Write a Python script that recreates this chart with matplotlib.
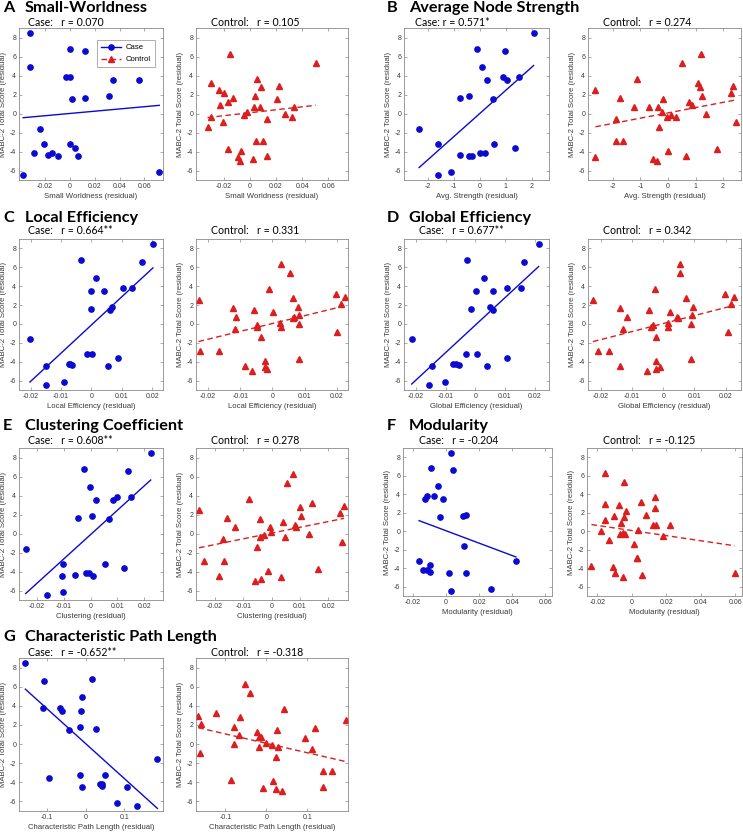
import numpy as np
import matplotlib.pyplot as plt
from matplotlib.lines import Line2D

plt.rcParams["axes.unicode_minus"] = False

## Data ---------------------------------------

case_y = [8.5, 6.8, 6.6, 4.9, 3.8, 3.8, 3.5, 3.5, 1.8, 1.6, 1.5, -1.6, -3.2, -3.2,
          -3.6, -4.2, -4.2, -4.4, -4.5, -4.5, -6.2, -6.5]
control_y = [6.3, 5.35, 3.65, 3.2, 2.9, 2.8, 2.5, 2.15, 1.8, 1.65, 1.5, 1.25, 0.9, 0.7,
             0.7, 0.65, 0.15, 0.0, -0.15, -0.35, -0.35, -0.55, -0.9, -1.4, -2.85, -2.85,
             -3.75, -3.9, -4.5, -4.55, -4.75, -4.95]

sw_case = [-0.032, 0.0, 0.0118, -0.032, -0.0032, 0.0003, 0.0346, 0.0556, 0.0317, 0.0123,
           0.0016, -0.0242, -0.021, 0.0, 0.0038, -0.029, -0.0145, -0.018, -0.0099, 0.0067,
           0.072, -0.0376]
sw_ctrl = [-0.0153, 0.0504, 0.0054, -0.0296, 0.0222, 0.0087, -0.0238, -0.0199, 0.0043,
           -0.0128, 0.0207, -0.0166, -0.0227, 0.0079, 0.0335, 0.0036, -0.002, 0.0266,
           -0.0046, -0.0296, 0.0319, 0.0133, -0.0202, -0.0322, 0.0051, 0.01, -0.0166,
           -0.0064, 0.013, -0.0092, 0.0026, -0.0074]

str_case = [2.06, -0.10, 0.95, 0.09, 0.90, 1.49, 0.27, 1.04, -0.41, -0.76, 0.52, -2.32,
            -1.58, 0.54, 1.34, 0.01, 0.19, -0.75, -0.42, -0.30, -1.10, -1.58]
str_ctrl = [1.19, 0.52, -1.12, 1.09, 2.35, 1.15, -2.63, 2.29, 1.25, -1.73, -0.19, 0.78,
            0.86, -1.23, -0.67, -0.36, -0.23, 1.38, 0.10, -0.04, 0.28, -1.89, 2.46, -0.31,
            -1.90, -1.63, 1.77, 0.02, 0.66, -2.63, -0.55, -0.40]

le_case = [0.0202, -0.0035, 0.0167, 0.0015, 0.0103, 0.0132, -0.0002, 0.0042, 0.0069,
           -0.0001, 0.006, -0.0202, -0.0014, 0.0002, 0.0088, -0.0074, -0.0069, -0.0065,
           -0.015, 0.0054, -0.0089, -0.0148]
le_ctrl = [0.0028, 0.0054, -0.0012, 0.0199, 0.0225, 0.0064, -0.023, 0.0213, 0.0079,
           -0.0123, -0.0058, 0.0003, 0.0081, -0.0112, 0.0067, 0.0063, 0.0022, 0.0084,
           -0.0047, -0.0048, 0.0028, -0.0116, 0.02, -0.0036, -0.0227, -0.0166, 0.0083,
           -0.0022, -0.0087, -0.0022, -0.0018, -0.0064]

ge_case = [0.0214, -0.0027, 0.0166, 0.003, 0.0106, 0.0155, 0.0001, 0.006, 0.005, -0.0015,
           0.0061, -0.0215, -0.0033, 0.0007, 0.0108, -0.0074, -0.0065, -0.0055, -0.0148,
           0.0038, -0.0104, -0.0157]
ge_ctrl = [0.0053, 0.0053, -0.0028, 0.0197, 0.0228, 0.0072, -0.0225, 0.0217, 0.0094,
           -0.0138, -0.0045, 0.0021, 0.0092, -0.0117, 0.0043, 0.0048, 0.0014, 0.0088,
           -0.0032, -0.0039, 0.0014, -0.0129, 0.0207, -0.0024, -0.0208, -0.0174, 0.009,
           -0.0022, -0.0139, -0.0009, -0.0023, -0.0051]

cl_case = [0.0224, -0.0026, 0.014, -0.0002, 0.0099, 0.015, 0.0021, 0.0084, 0.0005, -0.0046,
           0.0067, -0.0243, -0.0105, 0.0052, 0.0125, -0.0017, -0.0006, -0.0059, -0.0109,
           0.001, -0.0104, -0.0165]
cl_ctrl = [0.0074, 0.0055, -0.0082, 0.0144, 0.0256, 0.0101, -0.0257, 0.0242, 0.0104,
           -0.0157, -0.0043, 0.0039, 0.0083, -0.0129, -0.0005, 0.0085, -0.0002, 0.0132,
           -0.0026, -0.0042, 0.0046, -0.0173, 0.025, -0.0051, -0.0239, -0.0168, 0.0163,
           -0.0013, -0.0186, 0.0033, -0.0038, -0.006]

mod_case = [0.0032, -0.0088, 0.004, -0.005, -0.0074, -0.0117, -0.0127, -0.002, 0.0121,
            0.0103, -0.0038, 0.0111, -0.0163, 0.0422, -0.0096, -0.0139, -0.0117, -0.0094,
            0.002, 0.0121, 0.0273, 0.0028]
mod_ctrl = [-0.0157, -0.0045, 0.0136, 0.0054, -0.0155, -0.0077, 0.0132, -0.0035, 0.0081,
            -0.0101, -0.0043, -0.0155, -0.006, 0.0124, 0.0139, 0.0223, 0.0037, -0.0176,
            -0.005, -0.007, -0.0037, 0.018, -0.0134, 0.001, 0.0033, 0.0033, -0.0234,
            -0.011, 0.0598, -0.0097, 0.0062, -0.005]

cpl_case = [-0.1556, 0.0171, -0.1085, -0.0103, -0.1111, -0.0667, -0.0598, -0.012, -0.0145,
            0.0274, -0.0436, 0.1855, -0.0137, 0.0496, -0.094, 0.0376, 0.0427, 0.0436,
            -0.0085, 0.1077, 0.0803, 0.1333]
cpl_ctrl = [-0.052, -0.0395, 0.0437, -0.1235, -0.1664, -0.0647, 0.1958, -0.1597, -0.079,
            0.1193, 0.0269, -0.0227, -0.0672, -0.0176, -0.0134, 0.0958, -0.0017, -0.079,
            0.0151, -0.0168, 0.0277, 0.1118, -0.163, 0.0244, 0.1378, 0.1597, -0.0857,
            0.016, 0.1395, -0.0084, 0.0235, 0.0395]

letters = ["A", "B", "C", "D", "E", "F", "G"]
names = ["Small-Worldness", "Average Node Strength", "Local Efficiency", "Global Efficiency",
         "Clustering Coefficient", "Modularity", "Characteristic Path Length"]
xlabels = ["Small Worldness (residual)", "Avg. Strength (residual)",
           "Local Efficiency (residual)", "Global Efficiency (residual)",
           "Clustering (residual)", "Modularity (residual)",
           "Characteristic Path Length (residual)"]
case_r = ["Case:   r = 0.070", "Case: r = 0.571*", "Case:   r = 0.664**",
          "Case:   r = 0.677**", "Case:   r = 0.608**", "Case:   r = -0.204",
          "Case:   r = -0.652**"]
ctrl_r = ["Control:   r = 0.105", "Control:   r = 0.274", "Control:   r = 0.331",
          "Control:   r = 0.342", "Control:   r = 0.278", "Control:   r = -0.125",
          "Control:   r = -0.318"]
case_x = [sw_case, str_case, le_case, ge_case, cl_case, mod_case, cpl_case]
ctrl_x = [sw_ctrl, str_ctrl, le_ctrl, ge_ctrl, cl_ctrl, mod_ctrl, cpl_ctrl]

xticks = [[-0.02, 0, 0.02, 0.04, 0.06], [-2, -1, 0, 1, 2], [-0.02, -0.01, 0, 0.01, 0.02],
          [-0.02, -0.01, 0, 0.01, 0.02], [-0.02, -0.01, 0, 0.01, 0.02],
          [-0.02, 0, 0.02, 0.04, 0.06], [-0.1, 0, 0.1]]
xticklabels = [["-0.02", "0", "0.02", "0.04", "0.06"], ["-2", "-1", "0", "1", "2"],
               ["-0.02", "-0.01", "0", "0.01", "0.02"], ["-0.02", "-0.01", "0", "0.01", "0.02"],
               ["-0.02", "-0.01", "0", "0.01", "0.02"], ["-0.02", "0", "0.02", "0.04", "0.06"],
               ["-0.1", "0", "0.1"]]
xlims = [(-0.041, 0.075), (-2.9, 2.65), (-0.0238, 0.0235), (-0.0241, 0.0249),
         (-0.0268, 0.027), (-0.026, 0.064), (-0.172, 0.2)]

yticks = [-6, -4, -2, 0, 2, 4, 6, 8]

## Layout (pixels) -----------------------------

W, H = 743, 832
# left/right column pairs: (left axes x0, x1), (right axes x0, x1)
col_x = {0: ((19, 163), (196, 348)), 1: ((404, 549), (588, 741))}
# rows: (axes top, axes bottom)
row_y = [(28, 180), (239, 390), (448, 600), (658, 811)]
title_y = [8, 218, 426, 637]
sub_y = [22, 231, 440, 652]

BLUE = "#0a0ad2"
RED = "#dc1e1e"
FRAME = "#8a8a8a"
TXT = "#3a3a3a"

fig = plt.figure(figsize=(W / 100, H / 100), dpi=100)


def px_axes(x0, x1, y0, y1):
    return fig.add_axes([x0 / W, 1 - y1 / H, (x1 - x0) / W, (y1 - y0) / H])


def style_axes(ax, i):
    ax.set_xlim(*xlims[i])
    ax.set_ylim(-7, 9)
    ax.set_xticks(xticks[i])
    ax.set_xticklabels(xticklabels[i])
    ax.set_yticks(yticks)
    ax.tick_params(direction="in", length=2, width=0.5, colors=FRAME, labelcolor=TXT,
                   labelsize=5, pad=2, top=True, right=True)
    for s in ax.spines.values():
        s.set_color(FRAME)
        s.set_linewidth(0.6)
    for lab in ax.get_xticklabels() + ax.get_yticklabels():
        lab.set_fontfamily("Liberation Sans")
    ax.set_xlabel(xlabels[i], fontsize=5.6, color=TXT, family="Liberation Sans", labelpad=2)
    ax.set_ylabel("MABC-2 Total Score (residual)", fontsize=5.6, color=TXT,
                  family="Liberation Sans", labelpad=2)


def scatter_fit(ax, x, y, color, marker, ms, ls):
    x = np.array(x)
    y = np.array(y)
    ax.plot(x, y, linestyle="none", marker=marker, ms=ms, color=color, mec=color)
    k, b = np.polyfit(x, y, 1)
    xs = np.array([x.min(), x.max()])
    ax.plot(xs, k * xs + b, color=color, lw=1.0, ls=ls)


## Draw panels ---------------------------------

for i in range(7):
    row = i // 2
    col = i % 2
    (lx0, lx1), (rx0, rx1) = col_x[col]
    y0, y1 = row_y[row]
    if i == 5:
        lx0, lx1, rx0, rx1, y1 = 403, 552, 587, 742, 596

    ax1 = px_axes(lx0, lx1, y0, y1)
    scatter_fit(ax1, case_x[i], case_y, BLUE, "o", 3.8, "-")
    style_axes(ax1, i)

    ax2 = px_axes(rx0, rx1, y0, y1)
    scatter_fit(ax2, ctrl_x[i], control_y, RED, "^", 4.0, (0, (4, 2.5)))
    style_axes(ax2, i)

    # panel letter and name
    tx = 3 if col == 0 else 387
    nx = 25 if col == 0 else 409
    fig.text(tx / W, 1 - title_y[row] / H, letters[i], fontsize=11.7, fontweight="bold",
             family="Lato", va="center", ha="left")
    fig.text(nx / W, 1 - title_y[row] / H, names[i],
             fontsize=11.7, fontweight="bold", family="Lato", va="center", ha="left")

    # correlation subtitles
    cx = 28 if col == 0 else 415
    if col == 1 and i != 1:
        cx = 419
    fig.text(cx / W, 1 - sub_y[row] / H, case_r[i], fontsize=7.6, family="Lato",
             va="center", ha="left")
    kx = 211 if col == 0 else 603
    fig.text(kx / W, 1 - sub_y[row] / H, ctrl_r[i], fontsize=7.6, family="Lato",
             va="center", ha="left")

    if i == 0:
        handles = [Line2D([], [], color=BLUE, marker="o", ms=3.8, lw=1.0),
                   Line2D([], [], color=RED, marker="^", ms=4.0, lw=1.0, ls=(0, (4, 2.5)))]
        leg = ax1.legend(handles, ["Case", "Control"], loc="upper left",
                         bbox_to_anchor=((93 - lx0) / (lx1 - lx0), 1 - (36 - y0) / (y1 - y0)),
                         frameon=True, fancybox=False, borderpad=0.5,
                         handlelength=2.6, handletextpad=0.6, labelspacing=0.6,
                         prop={"family": "Liberation Sans", "size": 5.6})
        leg.get_frame().set_edgecolor(FRAME)
        leg.get_frame().set_linewidth(0.6)

fig.savefig("out.png", dpi=100)
